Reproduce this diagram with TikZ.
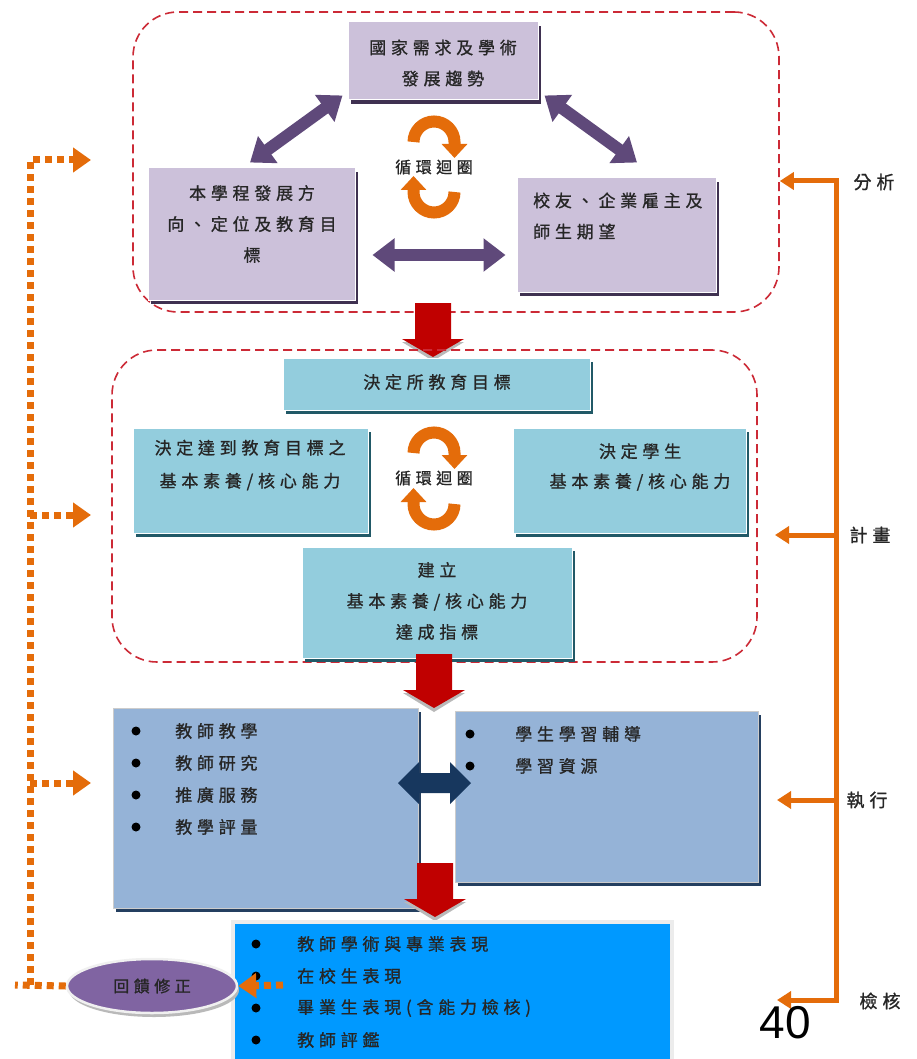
\documentclass[tikz,border=0pt]{standalone}
\usepackage{fontspec}
\setmainfont{Liberation Sans}
\newfontfamily\cjk[LetterSpace=28,FakeBold=1]{Noto Sans CJK TC}
\usetikzlibrary{arrows.meta,shadows,shapes.geometric,calc}
\definecolor{pfill}{HTML}{CCC1DA}
\definecolor{pshadow}{HTML}{3F3151}
\definecolor{parrow}{HTML}{5F497A}
\definecolor{lbfill}{HTML}{93CDDD}
\definecolor{lbshadow}{HTML}{215967}
\definecolor{mbfill}{HTML}{95B3D7}
\definecolor{mbshadow}{HTML}{243F60}
\definecolor{navy}{HTML}{17375E}
\definecolor{bbfill}{HTML}{0099FF}
\definecolor{orng}{HTML}{E46C0A}
\definecolor{arrred}{HTML}{C00000}
\definecolor{dred}{HTML}{CC2A36}
\definecolor{epurple}{HTML}{8064A2}
\definecolor{ink}{HTML}{262626}
\begin{document}
\begin{tikzpicture}[x=1pt,y=-1pt,
  txt/.style={font=\cjk\fontsize{17}{31}\selectfont, text=ink, align=center, inner sep=0pt},
  lab/.style={font=\cjk\fontsize{18}{18}\selectfont, text=ink, inner sep=0pt},
  dbox/.style={rectangle, draw=dred, line width=1.6pt, dash pattern=on 9pt off 5pt, rounded corners=45pt, inner sep=0pt},
  pbox/.style={rectangle, inner sep=0pt, fill=pfill, draw=white, line width=1pt,
     drop shadow={shadow xshift=3pt, shadow yshift=-4pt, fill=pshadow, opacity=1}},
  lbox/.style={rectangle, inner sep=0pt, fill=lbfill, draw=white, line width=1pt,
     drop shadow={shadow xshift=3pt, shadow yshift=-4pt, fill=lbshadow, opacity=1}},
  mbox/.style={rectangle, inner sep=0pt, fill=mbfill, draw=gray!40, line width=0.8pt,
     drop shadow={shadow xshift=3pt, shadow yshift=-4pt, fill=mbshadow, opacity=1}},
  bbox/.style={rectangle, inner sep=0pt, fill=bbfill, draw=gray!15, line width=4pt},
  parr/.style={draw=parrow, line width=12pt, {Triangle[width=32pt,length=22pt]}-{Triangle[width=32pt,length=22pt]}},
  cyc/.style={draw=orng, line width=12pt, -{Triangle[width=25pt,length=14pt]}},
  obar/.style={draw=orng, line width=5pt},
  otip/.style={-{Triangle[width=17pt,length=14pt]}},
  odot/.style={draw=orng, line width=7pt, dash pattern=on 7pt off 5pt},
  dtip/.style={-{Triangle[width=24pt,length=18pt]}},
  bul/.style={fill=black},
  item/.style={font=\cjk\fontsize{17}{17}\selectfont, text=ink, inner sep=0pt, anchor=west},
  redarr/.pic={
    \fill[gray!55] (-31,39) -- (31,39) -- (0,58) -- cycle;
    \fill[arrred] (-18,0) -- (18,0) -- (18,36) -- (31,36) -- (0,54) -- (-31,36) -- (-18,36) -- cycle;
  }
]
\useasboundingbox (0,0) rectangle (917,1059);
\fill[white] (0,0) rectangle (917,1059);

% ---------- section 1 ----------
\node[dbox, minimum width=646, minimum height=300] (sec1) at (456,162) {};
\node[pbox, minimum width=190, minimum height=78] (nat) at (443,61) {};
\node[txt] (natT) at (443,63) {國家需求及學術\\發展趨勢};
\node[pbox, minimum width=207, minimum height=132] (lpb) at (251.5,234) {};
\node[txt] (lpbT) at (252,224) {本學程發展方\\向、定位及教育目\\標};
\node[pbox, minimum width=199, minimum height=114] (rpb) at (616.5,235) {};
\node[txt, align=left, anchor=west] (rpbT) at (533,216) {校友、企業雇主及\\師生期望};

\draw[parr] ($(nat.south west)+(-5,-5)$) -- ($(lpb.north)+(-1.5,-5)$);
\draw[parr] ($(nat.south east)+(6,-5)$) -- ($(rpb.north)+(20.5,-15)$);
\draw[parr] ($(lpb.east)+(17,21)$) -- ($(rpb.west)+(-11,20)$);

\coordinate (cyc1) at (434,167);
\draw[cyc] ($(cyc1)+(-20.5,-25)$) arc[start angle=180, end angle=360, radius=20.5] -- ++(0,16);
\draw[cyc] ($(cyc1)+(20.5,25)$) arc[start angle=0, end angle=180, radius=20.5] -- ++(0,-16);
\node[txt, font=\cjk\fontsize{16}{16}\selectfont] (loop1) at (cyc1) {循環迴圈};

\pic at (433,303) {redarr};

% ---------- section 2 ----------
\node[dbox, minimum width=645, minimum height=312] (sec2) at (434.5,506) {};
\node[lbox, minimum width=307, minimum height=52] (goal) at (436.5,384) {};
\node[txt] (goalT) at (437,382) {決定所教育目標};
\node[lbox, minimum width=235, minimum height=105] (lcb) at (250.5,480.5) {};
\node[txt, font=\cjk\fontsize{17}{33}\selectfont] (lcbT) at (250,465) {決定達到教育目標之\\基本素養/核心能力};
\node[lbox, minimum width=233, minimum height=105] (rcb) at (629.5,480.5) {};
\node[txt, font=\cjk\fontsize{17}{30}\selectfont] (rcbT) at (640,467) {決定學生\\基本素養/核心能力};
\node[lbox, minimum width=270, minimum height=111] (bcb) at (437,602.5) {};
\node[txt] (bcbT) at (437,601) {建立\\基本素養/核心能力\\達成指標};

\coordinate (cyc2) at (434,478);
\draw[cyc] ($(cyc2)+(-20.5,-25)$) arc[start angle=180, end angle=360, radius=20.5] -- ++(0,16);
\draw[cyc] ($(cyc2)+(20.5,26)$) arc[start angle=0, end angle=180, radius=20.5] -- ++(0,-16);
\node[txt, font=\cjk\fontsize{16}{16}\selectfont] (loop2) at (cyc2) {循環迴圈};

\pic at (434,654) {redarr};

% ---------- section 3 ----------
\node[mbox, minimum width=305, minimum height=200] (teach) at (265.5,808) {};
\node[mbox, minimum width=303, minimum height=171] (learn) at (606.5,796.5) {};
\foreach \yy/\tt in {731/教師教學, 763/教師研究, 795/推廣服務, 827/教學評量}{
  \fill[bul] (136,\yy) circle (4.5);
  \node[item] at (175,\yy) {\tt};
}
\foreach \yy/\tt in {734/學生學習輔導, 766/學習資源}{
  \fill[bul] (470,\yy) circle (4.5);
  \node[item] at (515,\yy) {\tt};
}
\fill[navy] (398,783) -- (419,762) -- (419,773) -- (450,773) -- (450,762) -- (471,783)
   -- (450,804) -- (450,793) -- (419,793) -- (419,804) -- cycle;

\pic at (435,863) {redarr};

% ---------- section 4 ----------
\node[bbox, minimum width=439, minimum height=142] (check) at (452.5,993) {};
\foreach \yy/\tt in {944/教師學術與專業表現, 976/在校生表現, 1008/畢業生表現(含能力檢核), 1040/教師評鑑}{
  \fill[bul] (256,\yy) circle (4.5);
  \node[item] at (297,\yy) {\tt};
}

\node[ellipse, fill=epurple, draw=gray!12, line width=2.5pt, minimum width=170, minimum height=54,
   drop shadow={shadow xshift=2pt, shadow yshift=-4pt, fill=gray!55, opacity=1},
   font=\cjk\fontsize{16}{16}\selectfont, text=ink, inner sep=0pt] (fb) at (152,986) {回饋修正};

\draw[odot, dtip] (283,985) -- (fb.east);

% ---------- left feedback line ----------
\coordinate (fl0) at (15,985);
\coordinate (fc) at (30,985);
\coordinate (f1) at (30,160);
\coordinate (f2) at (30,515);
\coordinate (f3) at (30,783);
\draw[odot] (fb.west) -- (fl0);
\draw[odot, dtip] (fc) -- (f1) -- (91,160);
\draw[odot, dtip] (f2) -- (91,515);
\draw[odot, dtip] (f3) -- (91,783);

% ---------- right bar ----------
\coordinate (b1) at (836,181);
\coordinate (b2) at (836,535);
\coordinate (b3) at (836,800);
\coordinate (b4) at (836,1000);
\draw[obar, line cap=rect] (b1) -- (b4);
\draw[obar, otip] (b1) -- (sec1.east |- b1);
\draw[obar, otip] (b2) -- (775,535);
\draw[obar, otip] (b3) -- (777,800);
\draw[obar, otip] (b4) -- (777,1000);
\node[lab] (an) at (874,182) {分析};
\node[lab] (pl) at (870,535) {計畫};
\node[lab] (ex) at (867,800) {執行};
\node[lab] (ck) at (880,1001) {檢核};

\node[font=\fontsize{46}{46}\selectfont, inner sep=0pt] (pg) at (785,1023) {40};
\end{tikzpicture}
\end{document}
